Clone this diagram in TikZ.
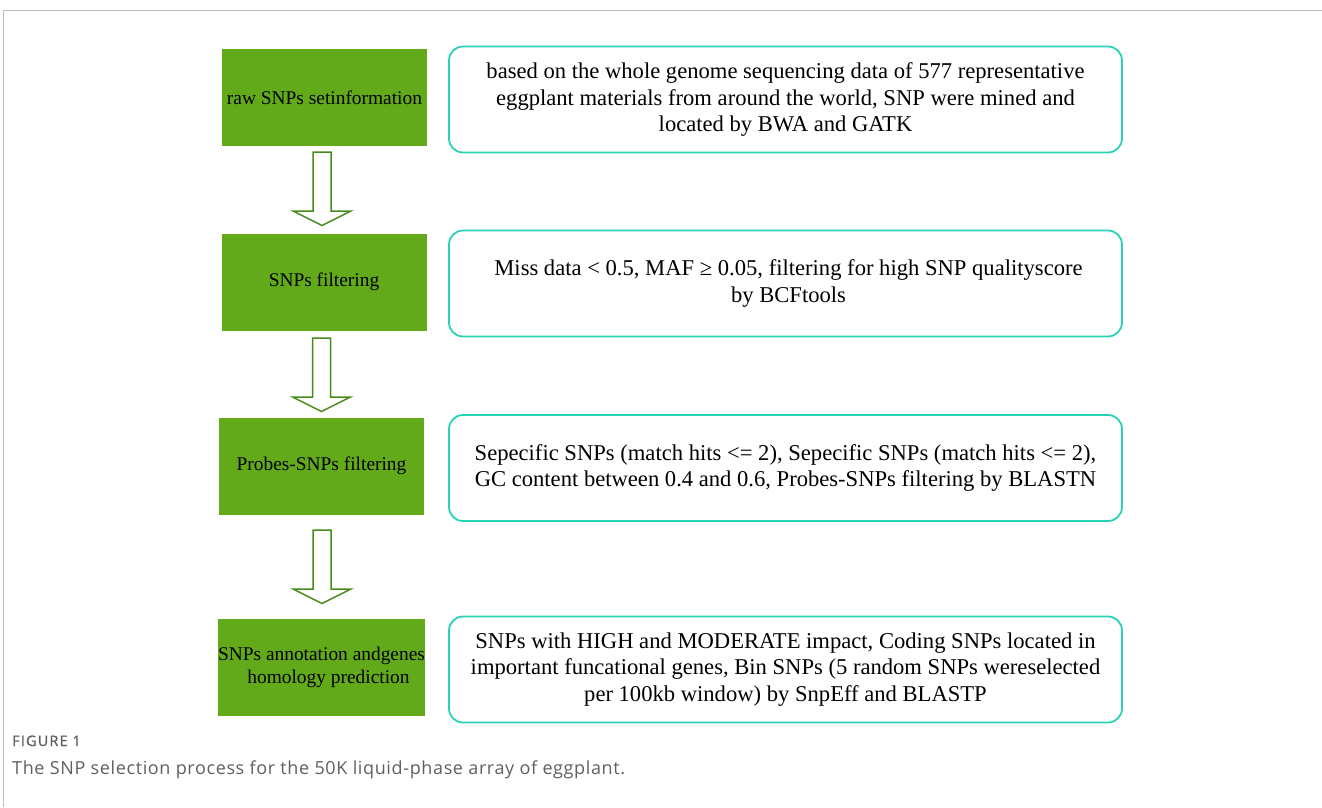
\documentclass[tikz,border=0pt]{standalone}
\usepackage{fontspec}
\setmainfont{Liberation Serif}
\newfontfamily\figfont[LetterSpace=8,FakeBold=1.2]{Open Sans}
\newfontfamily\capwfont[LetterSpace=3.5]{Open Sans}
\usetikzlibrary{calc}
\definecolor{stepgreen}{RGB}{98,170,26}
\definecolor{arrowgreen}{RGB}{70,138,28}
\definecolor{tealline}{RGB}{40,210,180}
\definecolor{framegray}{RGB}{190,190,190}
\definecolor{capgray}{RGB}{95,95,95}
\tikzset{
  stepbox/.style={fill=stepgreen, draw=none, minimum width=205pt, minimum height=97pt,
    inner sep=0pt, align=center, font=\fontsize{19.4}{23}\selectfont, text=black},
  descbox/.style={draw=tealline, line width=1.8pt, rounded corners=14pt, fill=white,
    minimum width=673pt, minimum height=106pt, inner sep=0pt, align=center,
    font=\fontsize{22.6}{26.5}\selectfont, text=black},
  blockarrow/.style={draw=arrowgreen, fill=white, line width=1.5pt, line join=miter}
}
\begin{document}
\begin{tikzpicture}[x=1pt,y=-1pt]
\useasboundingbox (0,0) rectangle (1322,807);
% frame
\draw[framegray, line width=1pt] (3.5,807) -- (3.5,10.5) -- (1322,10.5);

% green step boxes
\node[stepbox] (g1) at (324.5,97.5) {raw SNPs setinformation};
\node[stepbox] (g2) at (324,282) {SNPs filtering};
\node[stepbox] (g3) at (321.5,466) {Probes-SNPs filtering};
\node[stepbox] (g4) at (321.5,667) {SNPs annotation andgenes\\ \hspace*{14pt}homology prediction};

% description boxes
\node[descbox] (d1) at (785.5,99.5) {based on the whole genome sequencing data of 577 representative\\eggplant materials from around the world, SNP were mined and\\located by BWA and GATK};
\node[descbox] (d2) at (785.5,283.5) {\hspace*{6pt}Miss data < 0.5, MAF ≥ 0.05, filtering for high SNP qualityscore\\\hspace*{6pt}by BCFtools};
\node[descbox] (d3) at (785.5,468) {Sepecific SNPs (match hits <= 2), Sepecific SNPs (match hits <= 2),\\GC content between 0.4 and 0.6, Probes-SNPs filtering by BLASTN};
\node[descbox] (d4) at (785.5,669.5) {SNPs with HIGH and MODERATE impact, Coding SNPs located in\\important funcational genes, Bin SNPs (5 random SNPs wereselected\\per 100kb window) by SnpEff and BLASTP};

% block arrows
\coordinate (a1) at (322,152);
\coordinate (a2) at (321.5,338);
\coordinate (a3) at (322,530);
\foreach \c in {a1,a2,a3}{
  \draw[blockarrow] ($(\c)+(-9,0)$) -- ++(18,0) -- ++(0,59) -- ++(20,0) -- ++(-29,14.5) -- ++(-29,-14.5) -- ++(20,0) -- cycle;
}

% caption
\node[anchor=base west, inner sep=0pt, font=\figfont\fontsize{14.5}{16}\selectfont, text=capgray] (fig) at (12,746) {FIGURE 1};
\node[anchor=base west, inner sep=0pt, font=\capwfont\fontsize{18}{20}\selectfont, text=capgray] (cap) at (12,774) {The SNP selection process for the 50K liquid-phase array of eggplant.};
\end{tikzpicture}
\end{document}
